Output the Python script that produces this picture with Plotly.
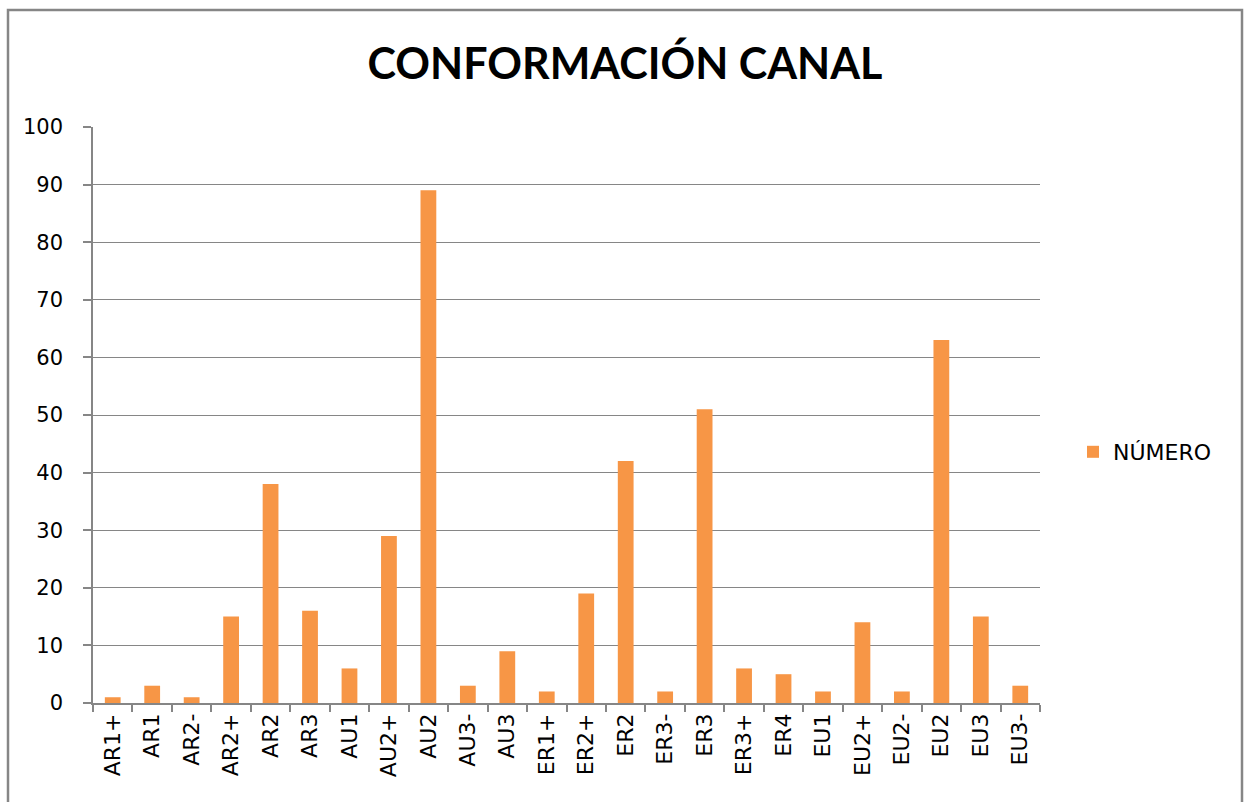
import plotly.graph_objects as go

categories = ["AR1+", "AR1", "AR2-", "AR2+", "AR2", "AR3", "AU1", "AU2+", "AU2", "AU3-",
              "AU3", "ER1+", "ER2+", "ER2", "ER3-", "ER3", "ER3+", "ER4", "EU1", "EU2+",
              "EU2-", "EU2", "EU3", "EU3-"]
values = [1, 3, 1, 15, 38, 16, 6, 29, 89, 3,
          9, 2, 19, 42, 2, 51, 6, 5, 2, 14,
          2, 63, 15, 3]
series_name = "NÚMERO"
title_text = "CONFORMACIÓN CANAL"

GRAY = "#868686"
TFONT = "Lato"
FONT = "DejaVu Sans"

fig = go.Figure(go.Bar(x=categories, y=values, name=series_name,
                       marker=dict(color="#F79646", line=dict(width=0))))

L, R, T, B = 93, 205, 127, 99
W, H = 1245, 802
pw, ph = W - L - R, H - T - B

def px(x):
    return (x - L) / pw

def py(y):
    return (H - B - y) / ph

fig.update_layout(
    width=W, height=H,
    margin=dict(l=L, r=R, t=T, b=B),
    paper_bgcolor="white", plot_bgcolor="white",
    bargap=0.6,
    showlegend=True,
    title=dict(text="<b>" + title_text + "</b>", x=625 / W, xref="container",
               y=1 - 64 / H, yref="container", yanchor="middle", xanchor="center",
               font=dict(family=TFONT, size=43, color="black")),
    legend=dict(x=px(1073), y=py(452), xanchor="left", yanchor="middle",
                font=dict(family=FONT, size=22, color="black"),
                itemsizing="constant", bgcolor="rgba(0,0,0,0)"),
    font=dict(family=FONT, color="black"),
    xaxis=dict(type="category", tickangle=-90, tickson="boundaries",
               ticks="outside", ticklen=7, tickcolor=GRAY, tickwidth=1.5,
               showline=True, linecolor=GRAY, linewidth=1.5,
               showgrid=False, tickfont=dict(family=FONT, size=22, color="black")),
    yaxis=dict(range=[0, 100], dtick=10, ticks="outside", ticklen=8,
               tickcolor=GRAY, tickwidth=1.5, showline=True, linecolor=GRAY,
               linewidth=1.5, showgrid=True, gridcolor=GRAY, gridwidth=1.2,
               zeroline=False, tickfont=dict(family=FONT, size=21, color="black"),
               ticklabelstandoff=16),
    shapes=[dict(type="rect", xref="paper", yref="paper",
                 x0=px(8), x1=px(1242), y0=py(806), y1=py(10),
                 line=dict(color=GRAY, width=2.5), fillcolor="rgba(0,0,0,0)")],
)

fig.write_html("out.html", config={"displayModeBar": False},
               post_script="document.body.style.margin='0';document.body.style.overflow='hidden';")
